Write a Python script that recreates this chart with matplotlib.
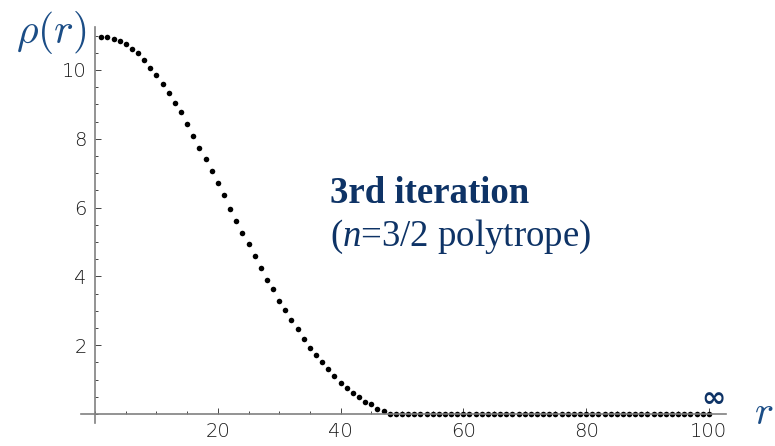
import numpy as np
import matplotlib
matplotlib.use('Agg')
import matplotlib.pyplot as plt
from matplotlib import rcParams
from matplotlib.ticker import MultipleLocator, FixedLocator

# density profile of the 3rd iteration, sampled at r = 1..100
r_values = np.arange(1, 101)
rho_head = [10.96, 10.96, 10.89, 10.83, 10.76, 10.62, 10.49, 10.28, 10.07, 9.86,
            9.59, 9.32, 9.05, 8.77, 8.43, 8.09, 7.74, 7.40, 7.06, 6.72,
            6.37, 5.96, 5.62, 5.27, 4.93, 4.59, 4.24, 3.90, 3.63, 3.29,
            3.01, 2.74, 2.47, 2.19, 1.92, 1.72, 1.50, 1.30, 1.10, 0.89,
            0.76, 0.62, 0.49, 0.35, 0.28, 0.15, 0.08]
rho_values = rho_head + [0.0] * (len(r_values) - len(rho_head))

x_major = [20, 40, 60, 80, 100]
y_major = [2, 4, 6, 8, 10]

title_line = '3rd iteration'
subtitle_line = r'($n$=3/2 polytrope)'

NAVY = '#0e3366'
BLUE = '#1b4d86'
AXIS_GREY = '#808080'


def plot_profile():
    rcParams['font.family'] = 'DejaVu Sans'
    rcParams['mathtext.fontset'] = 'custom'
    rcParams['mathtext.rm'] = 'Liberation Serif'
    rcParams['mathtext.it'] = 'Liberation Serif:italic'

    fig = plt.figure(figsize=(7.75, 4.46), dpi=100)
    ax = fig.add_axes([0.1045, 0.0516, 0.8323, 0.888])

    ax.plot(r_values, rho_values, 'o', color='black', markersize=4.0,
            markeredgewidth=0, clip_on=False)

    ax.set_xlim(-2.3, 102.8)
    ax.set_ylim(-0.26, 11.25)

    # Axes crossing at the origin, Mathematica style
    for side in ['top', 'right']:
        ax.spines[side].set_visible(False)
    for side in ['left', 'bottom']:
        ax.spines[side].set_position(('data', 0))
        ax.spines[side].set_color(AXIS_GREY)
        ax.spines[side].set_linewidth(1.2)

    ax.xaxis.set_major_locator(FixedLocator(x_major))
    ax.yaxis.set_major_locator(FixedLocator(y_major))
    ax.xaxis.set_minor_locator(MultipleLocator(5))
    ax.yaxis.set_minor_locator(MultipleLocator(0.5))
    ax.tick_params(which='both', direction='in', color='#444444', width=0.7,
                   labelsize=14, labelcolor='#1a1a1a')
    ax.tick_params(which='major', length=4)
    ax.tick_params(which='minor', length=2.2)
    ax.tick_params(axis='x', which='major', pad=6)
    ax.tick_params(axis='y', which='major', pad=6)
    for lab in ax.get_xticklabels() + ax.get_yticklabels():
        lab.set_fontweight('light')

    ax.text(38.3, 6.13, title_line, fontsize=26.5, fontweight='bold',
            family='Liberation Serif', color=NAVY, va='baseline', ha='left')
    ax.text(38.3, 4.88, subtitle_line, fontsize=26.5,
            family='Liberation Serif', color=NAVY, va='baseline', ha='left')

    ax.text(100.8, 0.2, '\u221e', fontsize=21, fontweight='bold',
            family='DejaVu Sans', color=NAVY, va='baseline', ha='center')

    fig.text(0.021, 0.928, r'$\rho(r)$', fontsize=30, color=BLUE,
             math_fontfamily='cm', va='center', ha='left')
    fig.text(0.973, 0.049, r'$r$', fontsize=29, color=BLUE,
             math_fontfamily='cm', va='baseline', ha='left')

    fig.savefig('out.png', dpi=100)


if __name__ == '__main__':
    plot_profile()
